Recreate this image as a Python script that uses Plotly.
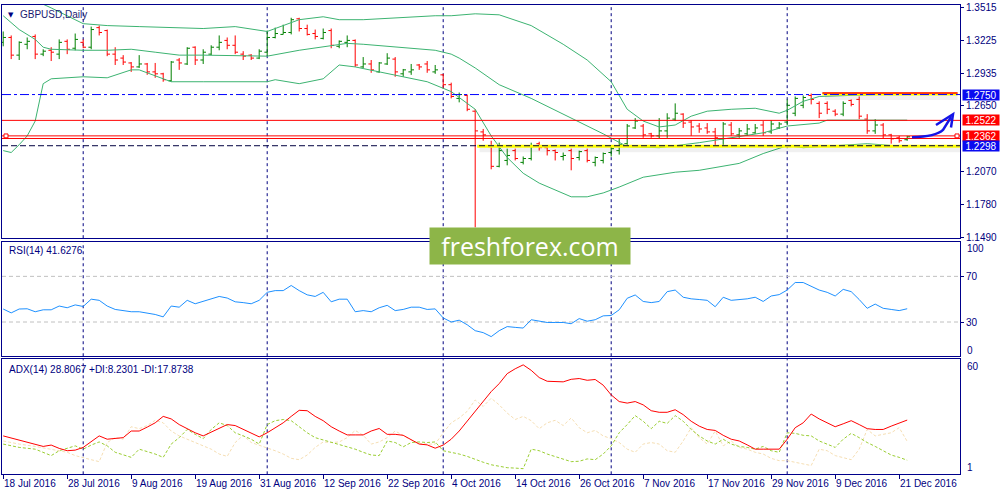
import plotly.graph_objects as go

# ---------------- data ----------------
date_labels = ["18 Jul 2016", "28 Jul 2016", "9 Aug 2016", "19 Aug 2016", "31 Aug 2016",
               "12 Sep 2016", "22 Sep 2016", "4 Oct 2016", "14 Oct 2016", "26 Oct 2016",
               "7 Nov 2016", "17 Nov 2016", "29 Nov 2016", "9 Dec 2016", "21 Dec 2016"]
date_bar_index = [0, 8, 16, 24, 32, 40, 48, 56, 64, 72, 80, 88, 96, 104, 112]
month_start_index = [10, 33, 55, 76, 98]

opens = [1.3211, 1.3254, 1.3098, 1.3194, 1.3263, 1.3107, 1.3141, 1.3107, 1.3220, 1.3159,
         1.3211, 1.3168, 1.3341, 1.3315, 1.3107, 1.3072, 1.3029, 1.2994, 1.3020, 1.2950,
         1.2933, 1.2872, 1.3055, 1.3020, 1.3168, 1.3055, 1.3107, 1.3168, 1.3228, 1.3185,
         1.3107, 1.3098, 1.3072, 1.3124, 1.3254, 1.3281, 1.3298, 1.3419, 1.3333, 1.3289,
         1.3246, 1.3315, 1.3176, 1.3211, 1.3228, 1.2994, 1.3020, 1.2950, 1.3020, 1.3063,
         1.2933, 1.2950, 1.3011, 1.3020, 1.2950, 1.2924, 1.2837, 1.2716, 1.2742, 1.2603,
         1.2420, 1.2290, 1.2116, 1.2168, 1.2255, 1.2151, 1.2185, 1.2316, 1.2281, 1.2255,
         1.2203, 1.2255, 1.2194, 1.2255, 1.2151, 1.2168, 1.2238, 1.2255, 1.2316, 1.2455,
         1.2472, 1.2403, 1.2385, 1.2429, 1.2533, 1.2577, 1.2507, 1.2472, 1.2455, 1.2420,
         1.2359, 1.2481, 1.2394, 1.2403, 1.2412, 1.2481, 1.2420, 1.2455, 1.2507, 1.2585,
         1.2655, 1.2742, 1.2672, 1.2672, 1.2603, 1.2577, 1.2698, 1.2707, 1.2533, 1.2429,
         1.2481, 1.2394, 1.2368, 1.2351]
highs = [1.3307, 1.3272, 1.3220, 1.3254, 1.3281, 1.3150, 1.3168, 1.3237, 1.3237, 1.3289,
         1.3237, 1.3350, 1.3359, 1.3324, 1.3168, 1.3098, 1.3037, 1.3098, 1.3029, 1.3029,
         1.2942, 1.3046, 1.3072, 1.3168, 1.3176, 1.3150, 1.3185, 1.3272, 1.3254, 1.3272,
         1.3133, 1.3107, 1.3150, 1.3315, 1.3341, 1.3367, 1.3428, 1.3428, 1.3367, 1.3324,
         1.3333, 1.3333, 1.3228, 1.3272, 1.3237, 1.3081, 1.3055, 1.3037, 1.3115, 1.3081,
         1.2976, 1.3020, 1.3020, 1.3046, 1.3011, 1.2933, 1.2855, 1.2768, 1.2750, 1.2620,
         1.2446, 1.2342, 1.2325, 1.2272, 1.2272, 1.2203, 1.2325, 1.2333, 1.2298, 1.2264,
         1.2238, 1.2272, 1.2255, 1.2272, 1.2203, 1.2238, 1.2298, 1.2359, 1.2490, 1.2542,
         1.2490, 1.2412, 1.2542, 1.2585, 1.2672, 1.2585, 1.2524, 1.2498, 1.2498, 1.2455,
         1.2507, 1.2507, 1.2455, 1.2490, 1.2490, 1.2516, 1.2524, 1.2507, 1.2707, 1.2733,
         1.2742, 1.2759, 1.2690, 1.2690, 1.2620, 1.2690, 1.2707, 1.2733, 1.2577, 1.2533,
         1.2498, 1.2403, 1.2385, 1.2385]
lows = [1.3176, 1.3063, 1.3055, 1.3150, 1.3063, 1.3089, 1.3046, 1.3063, 1.3107, 1.3141,
        1.3159, 1.3150, 1.3272, 1.3089, 1.3011, 1.3011, 1.2950, 1.2985, 1.2924, 1.2898,
        1.2863, 1.2863, 1.2968, 1.3011, 1.3011, 1.3020, 1.3098, 1.3141, 1.3150, 1.3107,
        1.3055, 1.3055, 1.3063, 1.3089, 1.3246, 1.3281, 1.3281, 1.3307, 1.3272, 1.3237,
        1.3237, 1.3159, 1.3159, 1.3168, 1.2994, 1.2985, 1.2942, 1.2942, 1.3011, 1.2907,
        1.2907, 1.2924, 1.2968, 1.2942, 1.2933, 1.2802, 1.2716, 1.2681, 1.2603, 1.1577,
        1.2342, 1.2090, 1.2107, 1.2125, 1.2168, 1.2133, 1.2168, 1.2255, 1.2212, 1.2168,
        1.2168, 1.2081, 1.2168, 1.2151, 1.2116, 1.2142, 1.2203, 1.2220, 1.2290, 1.2446,
        1.2368, 1.2368, 1.2359, 1.2368, 1.2516, 1.2455, 1.2385, 1.2412, 1.2403, 1.2298,
        1.2298, 1.2385, 1.2368, 1.2385, 1.2403, 1.2385, 1.2403, 1.2446, 1.2481, 1.2559,
        1.2629, 1.2663, 1.2542, 1.2577, 1.2559, 1.2559, 1.2646, 1.2533, 1.2403, 1.2403,
        1.2359, 1.2316, 1.2325, 1.2342]
closes = [1.3254, 1.3098, 1.3211, 1.3220, 1.3107, 1.3133, 1.3124, 1.3211, 1.3150, 1.3237,
          1.3168, 1.3324, 1.3298, 1.3107, 1.3055, 1.3037, 1.2994, 1.3020, 1.2950, 1.2933,
          1.2881, 1.3037, 1.3029, 1.3159, 1.3055, 1.3124, 1.3168, 1.3211, 1.3185, 1.3124,
          1.3089, 1.3072, 1.3133, 1.3254, 1.3289, 1.3298, 1.3411, 1.3333, 1.3281, 1.3263,
          1.3298, 1.3185, 1.3220, 1.3228, 1.3011, 1.3020, 1.2968, 1.3029, 1.3072, 1.2950,
          1.2968, 1.2968, 1.2994, 1.2968, 1.2968, 1.2837, 1.2733, 1.2750, 1.2620, 1.2429,
          1.2394, 1.2116, 1.2255, 1.2212, 1.2185, 1.2185, 1.2290, 1.2281, 1.2255, 1.2238,
          1.2212, 1.2185, 1.2246, 1.2168, 1.2194, 1.2229, 1.2272, 1.2307, 1.2472, 1.2516,
          1.2394, 1.2385, 1.2429, 1.2542, 1.2585, 1.2498, 1.2464, 1.2446, 1.2420, 1.2368,
          1.2490, 1.2403, 1.2429, 1.2446, 1.2455, 1.2412, 1.2490, 1.2490, 1.2655, 1.2716,
          1.2724, 1.2707, 1.2585, 1.2620, 1.2577, 1.2672, 1.2663, 1.2559, 1.2429, 1.2481,
          1.2394, 1.2359, 1.2342, 1.2377]

bb_upper_idx = [4, 6, 10, 13, 17, 22, 25, 29, 33, 35, 37, 40, 42, 45, 50, 54, 56, 59, 62, 66,
                70, 73, 76, 78, 80, 82, 84, 86, 88, 91, 94, 97, 98, 100, 102, 105, 109, 113]
bb_upper = [1.3580, 1.3515, 1.3376, 1.3359, 1.3350, 1.3341, 1.3333, 1.3350, 1.3307, 1.3359,
            1.3411, 1.3437, 1.3411, 1.3411, 1.3428, 1.3446, 1.3446, 1.3463, 1.3454, 1.3359,
            1.3194, 1.3055, 1.2863, 1.2620, 1.2516, 1.2464, 1.2481, 1.2559, 1.2603, 1.2620,
            1.2629, 1.2585, 1.2611, 1.2690, 1.2733, 1.2742, 1.2750, 1.2750]
bb_mid_idx = [0, 2, 4, 5, 6, 10, 13, 16, 19, 22, 25, 33, 37, 41, 43, 45, 50, 54, 56, 57,
              59, 61, 62, 66, 70, 75, 78, 82, 87, 91, 95, 98, 102, 103, 113]
bb_mid = [1.3446, 1.3324, 1.3237, 1.3168, 1.3150, 1.3141, 1.3141, 1.3150, 1.3124, 1.3098,
          1.3098, 1.3089, 1.3141, 1.3185, 1.3202, 1.3194, 1.3168, 1.3141, 1.3107, 1.3072,
          1.2985, 1.2881, 1.2837, 1.2716, 1.2577, 1.2403, 1.2290, 1.2281, 1.2325, 1.2368,
          1.2412, 1.2472, 1.2498, 1.2524, 1.2524]
bb_low_idx = [0, 1, 2, 3, 4, 5, 6, 10, 13, 16, 17, 20, 21, 25, 33, 34, 37, 40, 42, 44,
              47, 50, 53, 56, 59, 61, 63, 65, 67, 71, 73, 75, 77, 80, 84, 87, 89, 92, 95, 98,
              100, 104, 108, 113]
bb_low = [1.2255, 1.2238, 1.2307, 1.2385, 1.2516, 1.2846, 1.2889, 1.2907, 1.2898, 1.2968,
          1.2968, 1.2889, 1.2863, 1.2863, 1.2863, 1.2881, 1.2846, 1.2889, 1.3011, 1.2994,
          1.2950, 1.2907, 1.2863, 1.2776, 1.2620, 1.2385, 1.2194, 1.2055, 1.1968, 1.1847,
          1.1847, 1.1881, 1.1933, 1.2020, 1.2064, 1.2081, 1.2107, 1.2142, 1.2229, 1.2298,
          1.2281, 1.2298, 1.2316, 1.2290]

rsi = [41.4, 38, 41.4, 41.6, 39, 40.7, 40.7, 44, 42.5, 45,
       43.6, 50, 49, 44, 41, 40, 39, 39, 38, 36.6,
       34.5, 44, 43, 49, 46, 48, 50, 52.4, 51, 47.7,
       47, 46, 49, 56, 57.5, 57.5, 62, 57.5, 53.8, 52.4,
       56, 47.7, 50, 50, 39, 40, 39, 42.5, 44.6, 40,
       41, 43, 43, 41, 41.5, 33.6, 30, 31.6, 27.6, 22.4,
       20.7, 17.2, 22.4, 26, 25.3, 24.7, 32, 31, 29.6, 29.6,
       29.6, 28.5, 33, 30.7, 32, 35.4, 35.7, 40.7, 50.8, 53.7,
       48, 47, 48, 56.6, 58, 51.7, 50.3, 49.7, 49, 43.4,
       51.7, 49, 49.4, 50.3, 51.7, 48, 52.8, 54, 58, 64.6,
       64.6, 61, 58, 56, 52.8, 58.6, 56.6, 49.7, 42, 45.7,
       42, 41, 40, 41.6276]

adx_idx = [0, 2] + list(range(4, 114))
adx = [20.7, 18.6, 16.5, 15.3, 16, 14.3, 13.1, 13.4, 14.8, 17.6,
       20.7, 19, 19.3, 19.8, 23.2, 23.2, 25.2, 27.4, 30.7, 29.4,
       26.5, 24.4, 22.3, 20.7, 22.7, 24.9, 26.5, 26.0, 24.0, 22.0,
       20.2, 22.3, 24.9, 27.4, 30.7, 33.8, 33.6, 30.7, 28.5, 25.4,
       23.2, 21.2, 21.2, 21.2, 23.2, 24.5, 21.5, 21.5, 21, 18.6,
       16.5, 16.1, 14.4, 16.0, 19, 23.2, 28.2, 33.6, 38.6, 43.4,
       47.5, 52.6, 55.1, 57.1, 54.3, 50.6, 48.7, 48.7, 48.4, 49.7,
       50.1, 49.2, 49.6, 46.7, 41.7, 38.3, 37.5, 38.3, 36.6, 33.6,
       32.8, 32.8, 34.1, 31.6, 28.2, 25.7, 24.0, 23.5, 21, 19,
       18.1, 16.1, 13.9, 13.9, 13.9, 13.9, 19, 24.9, 27.4, 31.9,
       29.4, 27.4, 25.4, 26.9, 28.5, 26.5, 24.4, 24.0, 24.0, 25.7,
       27.1, 28.8067]

plus_di_idx = [0, 2, 4] + list(range(6, 114))
plus_di = [16.5, 14.8, 13.9, 10.6, 13.1, 14.3, 15.6, 13.9, 16, 17.6,
           15.6, 12.3, 10.9, 9.7, 13.9, 12.6, 11.4, 9.7, 16.5, 19.8,
           24.0, 21.5, 19.3, 24.0, 27.4, 26, 22.3, 20.7, 19, 16.5,
           26.5, 28.5, 29.1, 28.5, 25.4, 22.3, 19.8, 18.6, 17.3, 16.5,
           15.1, 13.9, 12.3, 10.9, 10.6, 18.1, 17.3, 15.1, 17.3, 17.6,
           17.3, 17.6, 13.1, 12.3, 11.4, 10.2, 8.5, 7.2, 5.9, 5.0,
           4.4, 4.2, 3.9, 13.9, 13.1, 11.4, 10.2, 8.9, 7.5, 7.7,
           8.9, 8.5, 11.4, 15.6, 22.3, 26.5, 31.1, 28.2, 24.4, 28.2,
           27.1, 31.1, 28.2, 24.0, 20.7, 18.1, 16.5, 19, 16.5, 15.3,
           14.8, 13.9, 15.3, 13.1, 12.3, 22.3, 22.0, 21, 20.7, 18.1,
           16.5, 14.8, 19, 22, 19.8, 17.3, 15.3, 13.1, 10.9, 9.7,
           8.2301]

minus_di_idx = [0, 2, 4, 6] + list(range(8, 114))
minus_di = [18.1, 16.5, 15.3, 13.9, 12.3, 10.6, 9.7, 8.5, 7.5, 17.3,
            19.8, 19, 25.4, 24.4, 26, 28.7, 27.4, 23.2, 20.7, 19,
            17.3, 15.6, 13.9, 11.4, 10.2, 17.3, 21, 17.3, 16, 14.8,
            13.1, 11.4, 9.2, 8.5, 10.9, 14.8, 17.6, 17.3, 17.6, 19.8,
            23.5, 21, 16.5, 17.6, 19.8, 23.2, 20.7, 18.6, 16.9, 16.5,
            16.5, 22.3, 27.4, 29.9, 33.3, 39.1, 35.8, 40, 36.6, 32.4,
            29.1, 30.7, 28.5, 24.4, 27.4, 28.7, 26, 29.9, 24.9, 22.3,
            23.5, 20.7, 19.3, 17.3, 13.9, 12.3, 16.5, 17.3, 16.5, 13.1,
            12.3, 18.1, 24.9, 19.8, 16.5, 23.2, 15.6, 18.1, 14.8, 13.9,
            12.3, 11.4, 9.2, 8.0, 8.0, 7.2, 6.4, 5.5, 13.9, 13.1,
            10.6, 9.7, 8.5, 13.9, 24.0, 20.7, 21.5, 22.3, 24.9, 17.8738]

price_ticks = [1.3515, 1.3225, 1.2935, 1.2650, 1.2070, 1.1780, 1.1490]
level_resist = 1.2750
level_red1 = 1.2522
level_red2 = 1.2385
level_red3 = 1.2362
level_support = 1.2298
level_top_segment = 1.2759

# ---------------- styling ----------------
NAVY = "#000080"
FRAME = "#00008B"
FONT = "Liberation Sans"
X_DOM = [0.002, 0.960]
X_RANGE = [-0.15, 119.6]
D_MAIN = [0.522, 0.996]
D_RSI = [0.282, 0.514]
D_ADX = [0.042, 0.276]

bars = list(range(len(opens)))

fig = go.Figure()

fig.add_trace(go.Ohlc(
    x=bars, open=opens, high=highs, low=lows, close=closes,
    increasing=dict(line=dict(color="#008000", width=1)),
    decreasing=dict(line=dict(color="#FF0000", width=1)),
    tickwidth=0.35, xaxis="x", yaxis="y", showlegend=False, hoverinfo="skip"))

for xs, ys in [(bb_upper_idx, bb_upper), (bb_mid_idx, bb_mid), (bb_low_idx, bb_low)]:
    fig.add_trace(go.Scatter(x=xs, y=ys, mode="lines", line=dict(color="#3CB371", width=1),
                             xaxis="x", yaxis="y", showlegend=False, hoverinfo="skip"))

fig.add_trace(go.Scatter(x=bars, y=rsi, mode="lines", line=dict(color="#1E90FF", width=1),
                         xaxis="x2", yaxis="y2", showlegend=False, hoverinfo="skip"))

fig.add_trace(go.Scatter(x=minus_di_idx, y=minus_di, mode="lines",
                         line=dict(color="#F5DEB3", width=1, dash="3px,2px"),
                         xaxis="x3", yaxis="y3", showlegend=False, hoverinfo="skip"))
fig.add_trace(go.Scatter(x=plus_di_idx, y=plus_di, mode="lines",
                         line=dict(color="#9ACD32", width=1, dash="3px,2px"),
                         xaxis="x3", yaxis="y3", showlegend=False, hoverinfo="skip"))
fig.add_trace(go.Scatter(x=adx_idx, y=adx, mode="lines", line=dict(color="#FF0000", width=1),
                         xaxis="x3", yaxis="y3", showlegend=False, hoverinfo="skip"))

shapes = []
# month separators in each pane
for ya in ["y", "y2", "y3"]:
    for m in month_start_index:
        shapes.append(dict(type="line", xref="x" if ya == "y" else "x" + ya[1:],
                           yref=ya + " domain", x0=m, x1=m, y0=0, y1=1,
                           line=dict(color=NAVY, width=1, dash="3px,3px"), layer="below"))
# RSI levels
for lv in [30, 70]:
    shapes.append(dict(type="line", xref="x2 domain", yref="y2", x0=0, x1=1, y0=lv, y1=lv,
                       line=dict(color="#C0C0C0", width=1, dash="4px,3px"), layer="below"))

# shadows and yellow segments
seg_start = 59.25
top_seg_start = 102.4
shapes += [
    dict(type="line", xref="x", yref="y", x0=seg_start + 0.3, x1=X_RANGE[1],
         y0=level_support - 0.0030, y1=level_support - 0.0030,
         line=dict(color="rgba(0,0,0,0.06)", width=6)),
    dict(type="line", xref="x", yref="y", x0=top_seg_start + 0.3, x1=119.3,
         y0=level_top_segment - 0.0030, y1=level_top_segment - 0.0030,
         line=dict(color="rgba(0,0,0,0.06)", width=6)),
    dict(type="line", xref="x", yref="y", x0=seg_start, x1=X_RANGE[1],
         y0=level_support - 0.0005, y1=level_support - 0.0005,
         line=dict(color="#FFFF00", width=3)),
    dict(type="line", xref="x", yref="y", x0=top_seg_start, x1=119.3,
         y0=level_top_segment - 0.0005, y1=level_top_segment - 0.0005,
         line=dict(color="#FFFF00", width=3)),
    dict(type="line", xref="x", yref="y", x0=top_seg_start, x1=119.3,
         y0=level_top_segment + 0.0004, y1=level_top_segment + 0.0004,
         line=dict(color="#FF0000", width=1.5)),
]
# horizontal levels
shapes += [
    dict(type="line", xref="x domain", yref="y", x0=0, x1=1, y0=level_resist, y1=level_resist,
         line=dict(color="#0000FF", width=1, dash="dashdot")),
    dict(type="line", xref="x domain", yref="y", x0=0, x1=1, y0=level_red1, y1=level_red1,
         line=dict(color="#FF0000", width=1)),
    dict(type="line", xref="x domain", yref="y", x0=0, x1=1, y0=level_red2, y1=level_red2,
         line=dict(color="#FF0000", width=1)),
    dict(type="line", xref="x domain", yref="y", x0=0, x1=1, y0=level_red3, y1=level_red3,
         line=dict(color="#FF0000", width=1)),
    dict(type="line", xref="x domain", yref="y", x0=0, x1=1, y0=level_support, y1=level_support,
         line=dict(color="#000040", width=1, dash="6px,3px")),
]
# small selection squares of the red line
for xp in [0.004, 0.955]:
    shapes.append(dict(type="rect", xref="paper", yref="y", x0=xp, x1=xp + 0.004,
                       y0=level_red2 - 0.0017, y1=level_red2 + 0.0017,
                       line=dict(color="#FF0000", width=1), fillcolor="white"))
# hand drawn blue arrow
shapes.append(dict(type="path", xref="paper", yref="paper",
                   path="M 0.912,0.727 C 0.928,0.728 0.938,0.732 0.943,0.742 L 0.951,0.768",
                   line=dict(color="#1414E6", width=2.5)))
shapes.append(dict(type="path", xref="paper", yref="paper",
                   path="M 0.936,0.752 L 0.953,0.774 L 0.951,0.747",
                   line=dict(color="#1414E6", width=2.5)))

annotations = []
# dates under the bottom pane (left aligned at tick)
for idx, lab in zip(date_bar_index, date_labels):
    annotations.append(dict(x=idx, xref="x3", y=0.024, yref="paper", text=lab, showarrow=False,
                            xanchor="left", yanchor="middle", xshift=-1,
                            font=dict(family=FONT, size=10, color=NAVY)))
# edge labels of indicator panes
for txt, ypx in [("100", 249), ("0", 353), ("60", 369), ("1", 472)]:
    annotations.append(dict(x=0.965, xref="paper", y=1 - ypx / 500, yref="paper", text=txt,
                            showarrow=False, xanchor="left", yanchor="middle",
                            font=dict(family=FONT, size=10, color=NAVY)))
# price labels of levels
for val, txt, col, yv in [(level_resist, "1.2750", "#0A0AF0", level_resist),
                          (level_red1, "1.2522", "#FF0000", level_red1),
                          (level_red3, "1.2362", "#FF0000", 1.2380),
                          (level_support, "1.2298", "#0A0AF0", level_support - 0.0003)]:
    annotations.append(dict(x=0.962, xref="paper", y=yv, yref="y", text=txt, showarrow=False,
                            xanchor="left", yanchor="middle", bgcolor=col, borderpad=0,
                            width=36, height=10, align="center",
                            font=dict(family=FONT, size=10, color="white")))
# titles
annotations += [
    dict(x=0.006, xref="paper", y=1 - 12 / 500, yref="paper", text="▼", showarrow=False,
         xanchor="left", yanchor="middle", font=dict(family="DejaVu Sans", size=7, color=NAVY)),
    dict(x=0.018, xref="paper", y=1 - 12 / 500, yref="paper", text="GBPUSD,Daily", showarrow=False,
         xanchor="left", yanchor="middle", font=dict(family=FONT, size=10, color="#1a1a70")),
    dict(x=0.007, xref="paper", y=1 - 252 / 500, yref="paper", text="RSI(14) 41.6276",
         showarrow=False, xanchor="left", yanchor="middle",
         font=dict(family=FONT, size=10, color=NAVY)),
    dict(x=0.007, xref="paper", y=1 - 372 / 500, yref="paper",
         text="ADX(14) 28.8067 +DI:8.2301 -DI:17.8738",
         showarrow=False, xanchor="left", yanchor="middle",
         font=dict(family=FONT, size=10, color=NAVY)),
    dict(x=0.530, xref="paper", y=1 - 247 / 500, yref="paper", text="freshforex.com",
         showarrow=False, xanchor="center", yanchor="middle", bgcolor="#8DB548",
         width=200, height=36, borderpad=0,
         font=dict(family="Open Sans", size=25, color="white")),
]

xcommon = dict(range=X_RANGE, domain=X_DOM, showgrid=False, zeroline=False, showline=True,
               mirror=True, linecolor=FRAME, linewidth=1, showticklabels=False, fixedrange=True)
ycommon = dict(side="right", showgrid=False, zeroline=False, showline=True, mirror=True,
               linecolor=FRAME, linewidth=1, ticks="outside", ticklen=3, tickcolor=NAVY,
               tickfont=dict(family=FONT, size=10, color=NAVY), fixedrange=True,
               ticklabeloverflow="allow")

fig.update_layout(
    width=1000, height=500, margin=dict(l=0, r=0, t=0, b=0),
    paper_bgcolor="white", plot_bgcolor="white", hovermode=False, showlegend=False,
    xaxis=dict(**xcommon, anchor="y", rangeslider=dict(visible=False)),
    xaxis2=dict(**xcommon, anchor="y2", matches="x"),
    xaxis3=dict(**xcommon, anchor="y3", matches="x", ticks="outside", ticklen=4,
                tickcolor=NAVY, tickvals=date_bar_index),
    yaxis=dict(**ycommon, domain=D_MAIN, range=[1.14816, 1.35411], anchor="x",
               tickvals=price_ticks, ticktext=["%.4f" % v for v in price_ticks]),
    yaxis2=dict(**ycommon, domain=D_RSI, range=[0, 100], anchor="x2",
                tickvals=[30, 70], ticktext=["30", "70"]),
    yaxis3=dict(**ycommon, domain=D_ADX, range=[1, 60], anchor="x3", tickvals=[]),
    shapes=shapes, annotations=annotations,
)

fig.write_html("out.html", config={"displayModeBar": False},
               post_script="document.body.style.margin='0';document.body.style.overflow='hidden';")
